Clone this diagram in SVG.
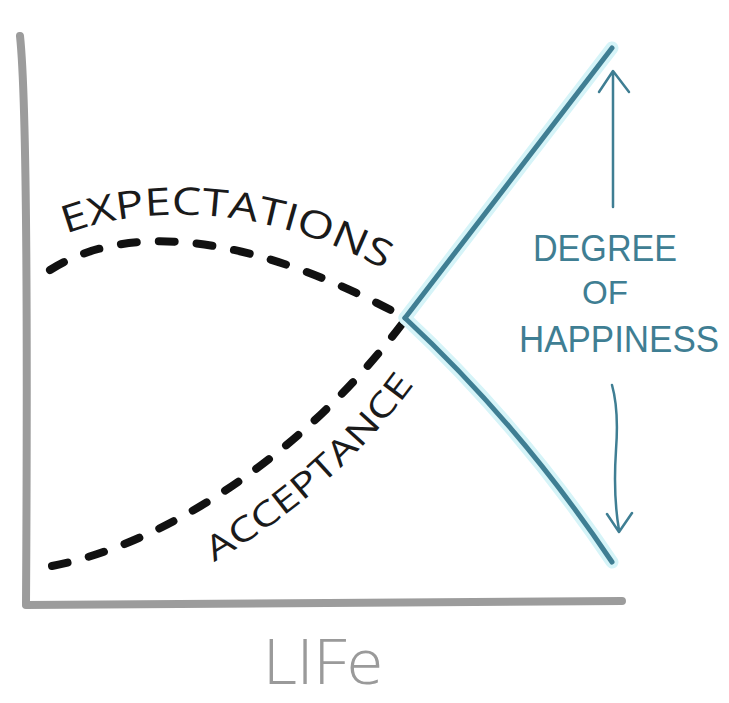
<svg xmlns="http://www.w3.org/2000/svg" width="729" height="703" viewBox="0 0 729 703">
<style>
.axis{fill:none;stroke:#9c9c9c;stroke-width:8;stroke-linecap:round}
.dash{fill:none;stroke:#111;stroke-width:8;stroke-linecap:round;stroke-dasharray:16 22}
.blue{fill:none;stroke:#3f7e93;stroke-width:5;stroke-linecap:round}
.glow{fill:none;stroke:#d6f4f8;stroke-width:13;stroke-linecap:round}
.thin{fill:none;stroke:#3f7e93;stroke-width:2.5;stroke-linecap:round;stroke-linejoin:round}
.lbl{font-family:"Open Sans","Liberation Sans",sans-serif;fill:#1a1a1a;font-weight:400}
.blt{font-family:"Liberation Sans","Open Sans",sans-serif;fill:#3f7e93;font-weight:400}
.life{font-family:"Open Sans","Liberation Sans",sans-serif;fill:#9a9a9a;font-weight:300}
</style>
<defs>
<path id="expPath" d="M 66 234 C 140 206, 262 200, 392 274"/>
<path id="accPath" d="M 214 562 C 290 518, 362 458, 420 376"/>
</defs>
<rect width="729" height="703" fill="#ffffff"/>
<g id="axes">
<path class="axis" d="M 20 36 Q 29 120 26 604"/>
<path class="axis" d="M 26 605 L 622 601"/>
</g>
<g id="connectors">
<path id="expectations-curve" class="dash" d="M 50 270 C 110 232, 220 218, 402 316"/>
<path id="acceptance-curve" class="dash" d="M 52 566 C 160 545, 300 460, 405 320"/>
<path class="glow" d="M 405 318 L 612 48"/>
<path class="glow" d="M 405 318 Q 520 425 612 562"/>
<path id="happy-up" class="blue" d="M 405 318 L 612 48"/>
<path id="happy-down" class="blue" d="M 405 318 Q 520 425 612 562"/>
<path id="arrow-up" class="thin" d="M 613 207 L 613 72 M 599 92 L 613 71 L 629 92"/>
<path id="arrow-down" class="thin" d="M 612 385 Q 619 410 616 450 Q 613 495 619 530 M 607 514 L 619 532 L 632 513"/>
</g>
<g id="expectations">
<text class="lbl" font-size="38"><textPath href="#expPath" textLength="330" lengthAdjust="spacingAndGlyphs">EXPECTATIONS</textPath></text>
</g>
<g id="acceptance">
<text class="lbl" font-size="34"><textPath href="#accPath" textLength="270" lengthAdjust="spacingAndGlyphs">ACCEPTANCE</textPath></text>
</g>
<g id="degree-of-happiness">
<text class="blt" x="533" y="261" font-size="36" textLength="144" lengthAdjust="spacingAndGlyphs">DEGREE</text>
<text class="blt" x="582" y="304" font-size="34" textLength="46" lengthAdjust="spacingAndGlyphs">OF</text>
<text class="blt" x="519" y="352" font-size="36" textLength="200" lengthAdjust="spacingAndGlyphs">HAPPINESS</text>
</g>
<g id="life">
<text class="life" x="263" y="684" font-size="62" textLength="120" lengthAdjust="spacingAndGlyphs">LIFe</text>
</g>
</svg>
